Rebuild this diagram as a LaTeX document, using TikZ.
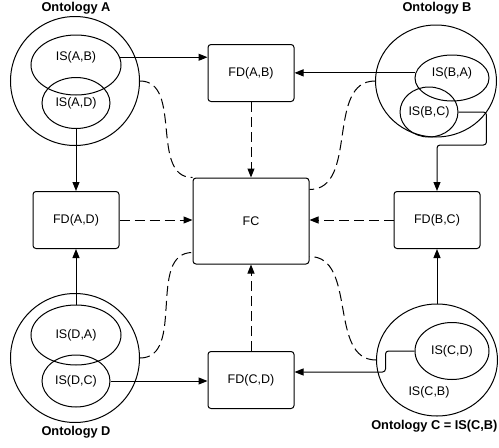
\documentclass[tikz,border=0pt]{standalone}
\usepackage{fontspec}
\setmainfont{Liberation Sans}
\usetikzlibrary{positioning,arrows.meta,calc,shapes.geometric}

\begin{document}
\begin{tikzpicture}[x=1pt,y=-1pt,line width=1pt,
  every node/.style={font=\fontsize{12.5}{14}\selectfont},
  fdbox/.style={draw,rounded corners=3pt,minimum width=86pt,minimum height=57pt,inner sep=0pt},
  onto/.style={draw,ellipse,inner sep=0pt},
  title/.style={font=\fontsize{12.8}{15}\selectfont\bfseries},
  arr/.style={-{Triangle[length=9pt,width=7pt]}},
  darr/.style={arr,dash pattern=on 10pt off 5pt},
  dline/.style={dash pattern=on 10pt off 5pt}]
\useasboundingbox (0,0) rectangle (499,448);

% Ontology A
\node[onto,minimum width=129pt,minimum height=129pt] (ontA) at (75,81) {};
\node[onto,minimum width=90pt,minimum height=60pt] (isAB) at (76,65) {};
\node (isABtxt) at (76,57) {IS(A,B)};
\node[onto,minimum width=68pt,minimum height=51pt] (isAD) at (76,103) {IS(A,D)};
\node[title] (ttlA) at (76,8) {Ontology A};

% Ontology B
\node[onto,minimum width=121pt,minimum height=112pt] (ontB) at (436,81) {};
\node[onto,minimum width=74pt,minimum height=46pt] (isBA) at (452,78) {};
\node (isBAtxt) at (452,73) {IS(B,A)};
\node[onto,minimum width=57pt,minimum height=50pt] (isBC) at (429,112) {IS(B,C)};
\node[title] (ttlB) at (437,8) {Ontology B};

% Ontology C
\node[onto,minimum width=121pt,minimum height=112pt] (ontC) at (437,360) {};
\node[onto,minimum width=74pt,minimum height=57pt] (isCD) at (452,351) {IS(C,D)};
\node (isCB) at (429,392) {IS(C,B)};
\node[title,anchor=east,inner xsep=1pt] (ttlC) at (499,426) {Ontology C = IS(C,B)};

% Ontology D
\node[onto,minimum width=129pt,minimum height=129pt] (ontD) at (75,358) {};
\node[onto,minimum width=90pt,minimum height=60pt] (isDA) at (76,335) {IS(D,A)};
\node[onto,minimum width=68pt,minimum height=52pt] (isDC) at (76,381) {IS(D,C)};
\node[title] (ttlD) at (76,432) {Ontology D};

% FD boxes and FC
\node[fdbox] (fdAB) at (251,73) {FD(A,B)};
\node[fdbox] (fdAD) at (76,220) {FD(A,D)};
\node[fdbox] (fdBC) at (437,220) {FD(B,C)};
\node[fdbox] (fdCD) at (251,380) {FD(C,D)};
\node[fdbox,minimum width=116pt,minimum height=86pt] (fc) at (251,221) {FC};

% solid arrows
\draw[arr] (isAB.10) -- (isAB.10 -| fdAB.west);
\draw[arr] (isAD.south) -- (fdAD.north);
\draw[arr] (isBA.172) -- (isBA.172 -| fdAB.east);
\draw[arr,rounded corners=3pt] (isBC.east) -| ([shift={(28,33)}]isBC.east) -| (fdBC.north);
\draw[arr] (ontC.north) -- (fdBC.south);
\draw[arr,rounded corners=3pt] (isCD.west) -- ++(-29,0) |- ([yshift=8pt]fdCD.east);
\draw[arr] (isDA.north) -- (fdAD.south);
\draw[arr] (isDC.east) -- (isDC.east -| fdCD.west);

% dashed arrows into FC
\draw[darr] (fdAB.south) -- (fc.north);
\draw[darr] (fdAD.east) -- (fdAD.east -| fc.west);
\draw[darr] (fdBC.west) -- (fdBC.west -| fc.east);
\draw[darr] (fdCD.north) -- (fc.south);

% dashed links from the ontologies
\draw[dline] (ontA.east) to[out=0,in=180] (fc.north west);
\draw[dline] (ontB.west) to[out=180,in=0] ([yshift=-12pt]fc.north east);
\draw[dline] (ontD.east) to[out=0,in=180] ([yshift=12pt]fc.south west);
\draw[dline] (ontC.west) to[out=180,in=0] ([yshift=8pt]fc.south east);
\end{tikzpicture}
\end{document}
